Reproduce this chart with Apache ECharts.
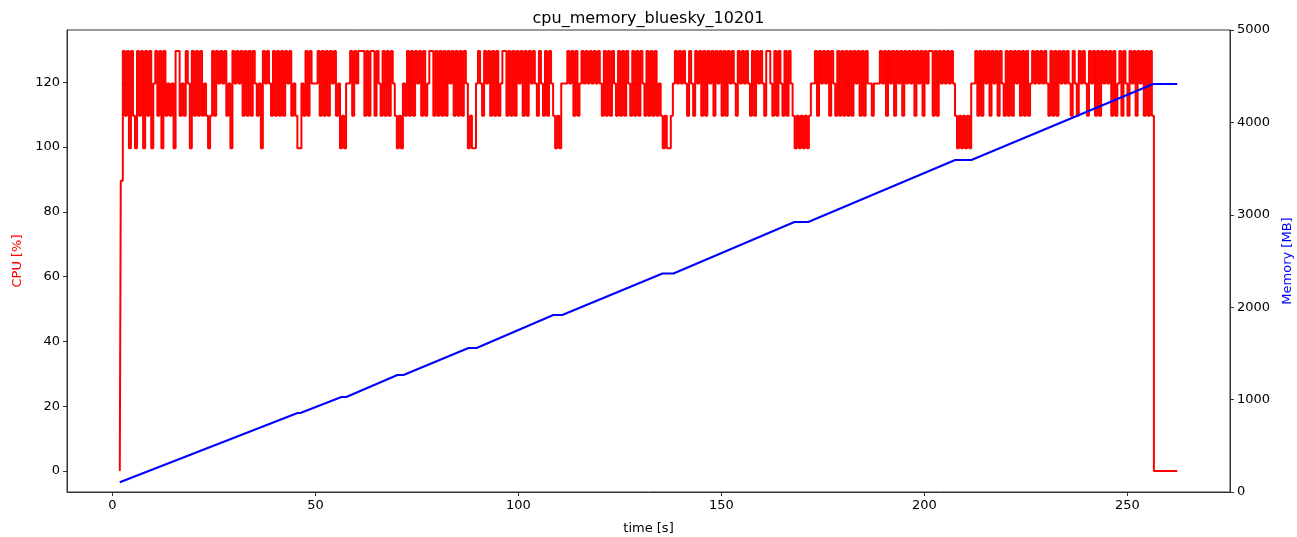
<!DOCTYPE html>
<html>
<head>
<meta charset="utf-8">
<title>cpu_memory_bluesky_10201</title>
<script src="https://cdn.jsdelivr.net/npm/echarts@6/dist/echarts.min.js"></script>
<style>
html, body { margin: 0; padding: 0; background: #fff; }
#chart { width: 1297px; height: 537px; }
</style>
</head>
<body>
<div id="chart"></div>
<script>
// cpu samples, one char per sample, every 0.5 s from 1.8 s
var cpuStart = 1.8;
var cpuStep = 0.5;
var cpuLevel = { z: 0, n: 89.6, '0': 99.6, '1': 109.6, '2': 119.6, '3': 129.6 };
var cpuTrace = [
    'zn313031031303130231', '30312120331213203131', '31210131323231203232',
    '31313132120323213131', '31323121002131322231', '31313231201022313233',
    '31313313213131321010', '21313132313123313131', '31323131313201002321',
    '32313131233131313231', '31323213213132101022', '23231312323232323213',
    '13132131313213131321', '31313121010012323232', '13213231313231323131',
    '32321323232131323213', '32131321313210101010', '12231323231321313131',
    '31323131322122232313', '23132313232313231323', '31313232323210101010',
    '22313132313231321313', '13231313123232323213', '13132323213213232132',
    '31313232313123132132', '3132313131zzzzzzzzzzzz'
];

// memory breakpoints [s] / [MB]
var memTime = [1.8, 45.6, 46.3, 56.4, 57.6, 70.2, 71.7, 87.7, 89.7, 108.6, 110.8,
    135.5, 138.2, 168.0, 171.4, 207.6, 211.6, 256.4, 262.3];
var memMB = [105, 855, 855, 1028, 1028, 1266, 1266, 1558, 1558, 1916, 1916,
    2365, 2365, 2922, 2922, 3593, 3593, 4416, 4416];

var xTicks = [0, 50, 100, 150, 200, 250];
var cpuTicks = [0, 20, 40, 60, 80, 100, 120];

function drawChart() {
    var dom = document.getElementById('chart');
    var myChart = echarts.init(dom);

    var codes = cpuTrace.join('');
    var cpuData = [];
    for (var i = 0; i < codes.length; i++) {
        cpuData.push([+(cpuStart + i * cpuStep).toFixed(1), cpuLevel[codes[i]]]);
    }
    var memData = memTime.map(function (t, i) { return [t, memMB[i]]; });

    var font = 'DejaVu Sans';
    var spine = '#333';

    var option = {
        animation: false,
        textStyle: { fontFamily: font },
        title: {
            text: 'cpu_memory_bluesky_10201',
            left: 'center',
            top: 6,
            textStyle: { fontFamily: font, fontSize: 16, fontWeight: 'normal', color: '#000' }
        },
        grid: {
            left: 67, right: 67, top: 30, bottom: 45,
            outerBoundsMode: 'none',
            containLabel: false,
            show: true, borderColor: spine, borderWidth: 1, backgroundColor: '#fff'
        },
        xAxis: {
            type: 'value',
            min: -11.2,
            max: 275.3,
            name: 'time [s]',
            nameLocation: 'middle',
            nameGap: 30,
            nameTextStyle: { fontFamily: font, fontSize: 13, color: '#000' },
            axisLine: { onZero: false, lineStyle: { color: spine } },
            axisTick: { length: 4, customValues: xTicks, lineStyle: { color: spine } },
            axisLabel: { customValues: xTicks, fontSize: 13, color: '#000', margin: 7 },
            splitLine: { show: false }
        },
        yAxis: [{
            type: 'value',
            min: -6.5,
            max: 136.1,
            name: 'CPU [%]',
            nameLocation: 'middle',
            nameRotate: 90,
            nameGap: 43,
            nameTextStyle: { fontFamily: font, fontSize: 13, color: '#ff0000' },
            axisLine: { show: true, onZero: false, lineStyle: { color: spine } },
            axisTick: { show: true, length: 4, customValues: cpuTicks, lineStyle: { color: spine } },
            axisLabel: { customValues: cpuTicks, fontSize: 13, color: '#000', margin: 7 },
            splitLine: { show: false }
        }, {
            type: 'value',
            position: 'right',
            min: 0,
            max: 5000,
            interval: 1000,
            name: 'Memory [MB]',
            nameLocation: 'middle',
            nameRotate: 90,
            nameGap: 51,
            nameTextStyle: { fontFamily: font, fontSize: 13, color: '#0000ff' },
            axisLine: { show: true, onZero: false, lineStyle: { color: spine } },
            axisTick: { show: true, length: 4, lineStyle: { color: spine } },
            axisLabel: {
                fontSize: 13, color: '#000', margin: 7,
                formatter: function (v) { return String(v); }
            },
            splitLine: { show: false }
        }],
        series: [{
            name: 'CPU',
            type: 'line',
            yAxisIndex: 0,
            data: cpuData,
            step: 'middle',
            showSymbol: false,
            sampling: null,
            lineStyle: { color: '#ff0000', width: 2 },
            itemStyle: { color: '#ff0000' }
        }, {
            name: 'Memory',
            type: 'line',
            yAxisIndex: 1,
            data: memData,
            showSymbol: false,
            lineStyle: { color: '#0000ff', width: 2 },
            itemStyle: { color: '#0000ff' }
        }]
    };

    if (option && typeof option === 'object') {
        myChart.setOption(option);
    }
}
drawChart();
</script>
</body>
</html>
